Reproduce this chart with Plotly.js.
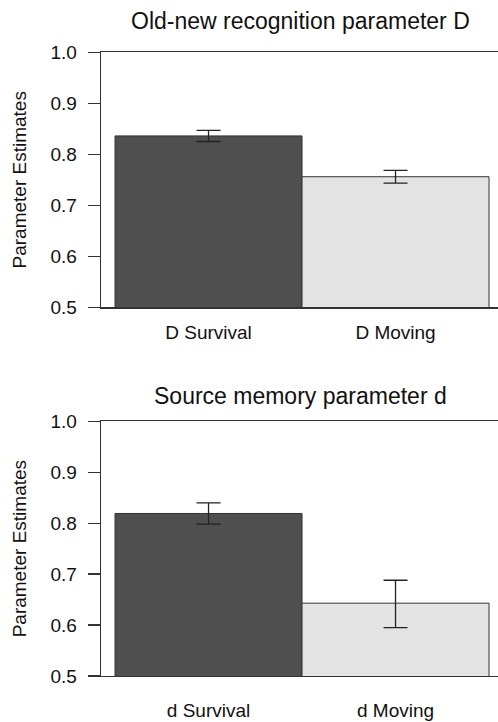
<!DOCTYPE html>
<html>
<head>
<meta charset="utf-8">
<script src="https://cdn.plot.ly/plotly-3.0.1.min.js"></script>
<style>html,body{margin:0;padding:0;background:#fff;}#chart{width:498px;height:722px;}</style>
</head>
<body>
<div id="chart"></div>
<script>
const categoriesTop = ['D Survival', 'D Moving'];
const valuesTop = [0.836, 0.756];
const errorsTop = [0.011, 0.0125];

const categoriesBottom = ['d Survival', 'd Moving'];
const valuesBottom = [0.819, 0.643];
const errorsBottomPlus = [0.021, 0.045];
const errorsBottomMinus = [0.021, 0.048];

const titleTop = 'Old-new recognition parameter D';
const titleBottom = 'Source memory parameter d';
const yAxisTitle = 'Parameter Estimates';
const yTickVals = [0.5, 0.6, 0.7, 0.8, 0.9, 1.0];
const yTickText = ['0.5', '0.6', '0.7', '0.8', '0.9', '1.0'];

const barColors = ['#4f4f4f', '#e3e3e3'];
const FONT = 'Liberation Sans, Arial, sans-serif';
const INK = '#111111';
const LINE = '#333333';

const traces = [
  {
    type: 'bar', x: categoriesTop, y: valuesTop, xaxis: 'x', yaxis: 'y',
    width: 1,
    marker: {color: barColors, line: {color: LINE, width: 1}},
    error_y: {type: 'data', array: errorsTop, visible: true, color: '#222', thickness: 1.3, width: 12},
    hoverinfo: 'none'
  },
  {
    type: 'bar', x: categoriesBottom, y: valuesBottom, xaxis: 'x2', yaxis: 'y2',
    width: 1,
    marker: {color: barColors, line: {color: LINE, width: 1}},
    error_y: {type: 'data', symmetric: false, array: errorsBottomPlus, arrayminus: errorsBottomMinus, visible: true, color: '#222', thickness: 1.3, width: 12},
    hoverinfo: 'none'
  }
];

const xCommon = {
  type: 'category',
  range: [-0.575, 1.548],
  domain: [0.2028, 1],
  showline: true, mirror: true, linecolor: LINE, linewidth: 1.3,
  showgrid: false, zeroline: false, ticks: '',
  tickfont: {family: FONT, size: 19, color: INK},
  fixedrange: true
};
const yCommon = {
  range: [0.5, 1.0],
  tickvals: yTickVals, ticktext: yTickText,
  showline: true, mirror: false, linecolor: LINE, linewidth: 1.3,
  ticks: 'outside', ticklen: 12, tickwidth: 1.3, tickcolor: LINE,
  showgrid: false, zeroline: false,
  tickfont: {family: FONT, size: 19, color: INK},
  ticklabelstandoff: 7,
  title: {text: yAxisTitle, font: {family: FONT, size: 19, color: INK}, standoff: 18},
  automargin: false,
  fixedrange: true
};

const layout = {
  width: 498, height: 722,
  margin: {l: 0, r: 0, t: 0, b: 0},
  paper_bgcolor: '#ffffff', plot_bgcolor: '#ffffff',
  showlegend: false,
  bargap: 0,
  font: {family: FONT, color: INK},
  xaxis: Object.assign({}, xCommon, {anchor: 'y', ticklabelstandoff: 8}),
  yaxis: Object.assign({}, yCommon, {domain: [0.5744, 0.9276], anchor: 'x'}),
  xaxis2: Object.assign({}, xCommon, {anchor: 'y2', ticklabelstandoff: 17}),
  yaxis2: Object.assign({}, yCommon, {domain: [0.0637, 0.4165], anchor: 'x2'}),
  annotations: [
    {text: titleTop, xref: 'paper', yref: 'paper', x: 0.6044, y: 1 - 21 / 722, xanchor: 'center', yanchor: 'middle', showarrow: false, font: {family: FONT, size: 23, color: INK}},
    {text: titleBottom, xref: 'paper', yref: 'paper', x: 0.6044, y: 1 - 396 / 722, xanchor: 'center', yanchor: 'middle', showarrow: false, font: {family: FONT, size: 23, color: INK}}
  ]
};

Plotly.newPlot('chart', traces, layout, {staticPlot: true, displayModeBar: false});
</script>
</body>
</html>
